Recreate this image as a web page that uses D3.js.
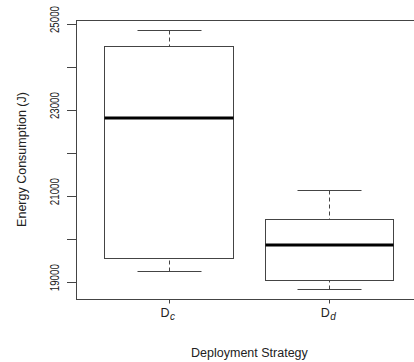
<!DOCTYPE html>
<html>
<head>
<meta charset="utf-8">
<script src="https://cdn.jsdelivr.net/npm/d3@7"></script>
<style>
  body { margin: 0; background: #fff; }
  svg { font-family: "Liberation Sans", Arial, Helvetica, sans-serif; }
</style>
</head>
<body>
<svg id="chart" width="414" height="362"></svg>
<script>
// strategies (subscripts of D)
const groups = ['c', 'd'];
// five-number summaries (J)
const lowerWhisker = [19255, 18840];
const q1 = [19550, 19030];
const median = [22800, 19860];
const q3 = [24485, 20455];
const upperWhisker = [24842, 21142];
const yTicks = [19000, 20000, 21000, 22000, 23000, 24000, 25000];
const yTickLabels = [19000, 21000, 23000, 25000];

const svg = d3.select('#chart');
const ink = '#444';

// R style 4% padding on both axes
const xScale = d3.scaleLinear().domain([0.42, 2.58]).range([75.5, 422.4]);
const yScale = d3.scaleLinear().domain([18598, 25082]).range([299, 20]);
const px = (v) => Math.round(v) + 0.5;

// frame
svg.append('rect')
  .attr('x', px(xScale(0.42))).attr('y', px(yScale(25082)))
  .attr('width', Math.round(xScale(2.58) - xScale(0.42)))
  .attr('height', Math.round(yScale(18598) - yScale(25082)))
  .attr('fill', 'none').attr('stroke', ink);

// y axis ticks
svg.append('g').selectAll('line')
  .data(yTicks).enter().append('line')
  .attr('x1', 67).attr('x2', px(xScale(0.42)))
  .attr('y1', (d) => px(yScale(d))).attr('y2', (d) => px(yScale(d)))
  .attr('stroke', ink);

// labels are squeezed along the axis like in the original output
svg.append('g').selectAll('text')
  .data(yTickLabels).enter().append('text')
  .attr('transform', (d) => 'translate(58.5,' + (yScale(d) - 4) + ') rotate(-90) scale(0.72,1)')
  .attr('text-anchor', 'middle')
  .attr('font-size', 13.5)
  .attr('fill', '#222')
  .text((d) => d);

// x axis ticks + labels
const xg = svg.append('g');
groups.forEach((g, i) => {
  const x = px(xScale(i + 1));
  xg.append('line').attr('x1', x).attr('x2', x).attr('y1', 299).attr('y2', 303.5).attr('stroke', ink);
  const t = xg.append('text')
    .attr('x', xScale(i + 1) - 1).attr('y', 317)
    .attr('text-anchor', 'middle').attr('font-size', 12.5).attr('fill', '#222');
  t.append('tspan').text('D');
  t.append('tspan').attr('dx', 0.5).attr('dy', 3).attr('font-size', 10).attr('font-style', 'italic').text(g);
});

// boxes
const boxHalf = 0.4, capHalf = 0.2;
groups.forEach((g, i) => {
  const c = i + 1;
  const b = svg.append('g');
  const xl = px(xScale(c - boxHalf)), xr = px(xScale(c + boxHalf));
  const xm = px(xScale(c));
  // whiskers
  [[lowerWhisker[i], q1[i]], [upperWhisker[i], q3[i]]].forEach(([w, q]) => {
    b.append('line').attr('x1', xm).attr('x2', xm)
      .attr('y1', px(yScale(w))).attr('y2', px(yScale(q)))
      .attr('stroke', ink).attr('stroke-dasharray', '4,3');
    b.append('line')
      .attr('x1', px(xScale(c - capHalf))).attr('x2', px(xScale(c + capHalf)))
      .attr('y1', px(yScale(w))).attr('y2', px(yScale(w)))
      .attr('stroke', ink);
  });
  b.append('rect')
    .attr('x', xl).attr('y', px(yScale(q3[i])))
    .attr('width', xr - xl).attr('height', px(yScale(q1[i])) - px(yScale(q3[i])))
    .attr('fill', '#fff').attr('stroke', ink);
  b.append('line').attr('x1', xl).attr('x2', xr)
    .attr('y1', Math.round(yScale(median[i]))).attr('y2', Math.round(yScale(median[i])))
    .attr('stroke', '#000').attr('stroke-width', 3);
});

// axis titles
svg.append('text')
  .attr('x', (xScale(1) + xScale(2)) / 2 + 0.5).attr('y', 357)
  .attr('text-anchor', 'middle').attr('font-size', 12.5).attr('fill', '#222')
  .text('Deployment Strategy');

svg.append('text')
  .attr('transform', 'translate(26,159.5) rotate(-90)')
  .attr('text-anchor', 'middle').attr('font-size', 12.5).attr('fill', '#222')
  .text('Energy Consumption (J)');
</script>
</body>
</html>
